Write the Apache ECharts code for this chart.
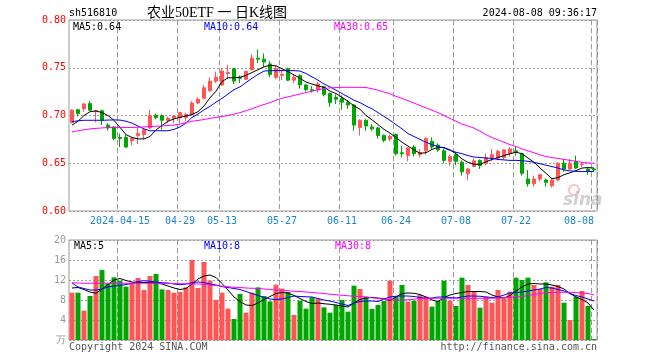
<!DOCTYPE html>
<html>
<head>
<meta charset="utf-8">
<script src="https://cdn.jsdelivr.net/npm/echarts@6/dist/echarts.min.js"></script>
<style>html,body{margin:0;padding:0;background:#fff}#c{width:660px;height:360px}</style>
</head>
<body>
<div id="c"></div>
<script>
const dates = [
'2024-04-01','2024-04-02','2024-04-03','2024-04-08','2024-04-09','2024-04-10','2024-04-11','2024-04-12',
'2024-04-15','2024-04-16','2024-04-17','2024-04-18','2024-04-19','2024-04-22','2024-04-23','2024-04-24','2024-04-25','2024-04-26',
'2024-04-29','2024-04-30','2024-05-06','2024-05-07','2024-05-08','2024-05-09','2024-05-10',
'2024-05-13','2024-05-14','2024-05-15','2024-05-16','2024-05-17','2024-05-20','2024-05-21','2024-05-22','2024-05-23','2024-05-24',
'2024-05-27','2024-05-28','2024-05-29','2024-05-30','2024-05-31','2024-06-03','2024-06-04','2024-06-05','2024-06-06','2024-06-07',
'2024-06-11','2024-06-12','2024-06-13','2024-06-14','2024-06-17','2024-06-18','2024-06-19','2024-06-20','2024-06-21',
'2024-06-24','2024-06-25','2024-06-26','2024-06-27','2024-06-28','2024-07-01','2024-07-02','2024-07-03','2024-07-04','2024-07-05',
'2024-07-08','2024-07-09','2024-07-10','2024-07-11','2024-07-12','2024-07-15','2024-07-16','2024-07-17','2024-07-18','2024-07-19',
'2024-07-22','2024-07-23','2024-07-24','2024-07-25','2024-07-26','2024-07-29','2024-07-30','2024-07-31','2024-08-01','2024-08-02',
'2024-08-05','2024-08-06','2024-08-07','2024-08-08'];

const labelDates = ['2024-04-15','2024-04-29','2024-05-13','2024-05-27','2024-06-11','2024-06-24','2024-07-08','2024-07-22','2024-08-08'];

const open = [0.6927,0.706,0.707,0.7125,0.704,0.705,0.690,0.688,0.677,0.677,
0.6735,0.679,0.680,0.687,0.700,0.700,0.695,0.697,0.698,0.698,
0.701,0.713,0.718,0.726,0.736,0.732,0.744,0.749,0.740,0.738,
0.748,0.760,0.759,0.754,0.740,0.742,0.749,0.737,0.742,0.732,
0.727,0.727,0.730,0.723,0.719,0.718,0.7135,0.711,0.6875,0.695,
0.688,0.687,0.679,0.6755,0.680,0.661,0.658,0.667,0.659,0.663,
0.673,0.669,0.663,0.652,0.659,0.651,0.639,0.6465,0.653,0.650,
0.6555,0.6555,0.656,0.660,0.663,0.660,0.6335,0.6285,0.6335,0.6325,
0.6265,0.6325,0.650,0.644,0.652,0.6485,0.644,0.644];
const close = [0.7055,0.702,0.712,0.7055,0.705,0.695,0.687,0.676,0.676,0.667,
0.676,0.681,0.685,0.700,0.698,0.695,0.697,0.6995,0.703,0.701,
0.713,0.717,0.729,0.736,0.740,0.7465,0.745,0.736,0.739,0.746,
0.760,0.759,0.756,0.743,0.749,0.743,0.737,0.740,0.732,0.727,
0.726,0.733,0.722,0.7135,0.717,0.714,0.711,0.690,0.695,0.689,
0.686,0.679,0.674,0.678,0.660,0.660,0.666,0.660,0.661,0.676,
0.667,0.664,0.653,0.657,0.652,0.641,0.644,0.6525,0.6475,0.656,
0.659,0.6625,0.664,0.665,0.662,0.6395,0.6285,0.6335,0.638,0.630,
0.6325,0.650,0.644,0.650,0.645,0.649,0.642,0.643];
const low = [0.6915,0.699,0.704,0.705,0.693,0.690,0.684,0.674,0.667,0.666,
0.669,0.670,0.675,0.686,0.696,0.685,0.692,0.692,0.692,0.694,
0.700,0.712,0.717,0.725,0.734,0.731,0.738,0.733,0.734,0.737,
0.747,0.755,0.751,0.740,0.738,0.737,0.736,0.734,0.728,0.725,
0.724,0.724,0.720,0.709,0.712,0.706,0.707,0.684,0.679,0.684,
0.684,0.676,0.672,0.673,0.658,0.656,0.652,0.657,0.656,0.659,
0.665,0.662,0.650,0.6475,0.648,0.637,0.632,0.646,0.644,0.648,
0.652,0.653,0.654,0.657,0.658,0.637,0.6255,0.6255,0.631,0.6255,
0.6245,0.631,0.641,0.643,0.644,0.646,0.638,0.642];
const high = [0.7065,0.707,0.713,0.715,0.706,0.706,0.692,0.689,0.681,0.680,
0.677,0.687,0.686,0.706,0.702,0.701,0.699,0.700,0.704,0.703,
0.715,0.719,0.732,0.740,0.746,0.750,0.753,0.750,0.742,0.747,
0.764,0.769,0.765,0.757,0.752,0.748,0.750,0.743,0.743,0.733,
0.731,0.735,0.731,0.724,0.722,0.721,0.716,0.712,0.696,0.696,
0.691,0.688,0.680,0.680,0.681,0.668,0.667,0.669,0.665,0.677,
0.677,0.671,0.665,0.659,0.662,0.653,0.645,0.655,0.654,0.660,
0.665,0.664,0.665,0.667,0.668,0.661,0.643,0.637,0.639,0.634,
0.634,0.651,0.6545,0.6545,0.658,0.651,0.645,0.645];

const priceMA5 = [0.690,0.694,0.700,0.704,0.7048,0.703,0.700,0.695,0.6875,0.680,
0.677,0.6755,0.6755,0.678,0.685,0.6895,0.694,0.6965,0.698,0.6995,
0.701,0.704,0.710,0.7185,0.7255,0.7355,0.7395,0.7395,0.740,0.742,
0.745,0.748,0.751,0.7525,0.752,0.749,0.746,0.7425,0.739,0.735,
0.733,0.731,0.7295,0.7255,0.723,0.719,0.715,0.710,0.7066,0.700,
0.6955,0.6905,0.6855,0.6815,0.677,0.672,0.668,0.664,0.6605,0.661,
0.6645,0.6667,0.6665,0.664,0.660,0.6545,0.651,0.649,0.6488,0.6515,
0.654,0.656,0.658,0.660,0.6615,0.660,0.6555,0.651,0.645,0.6395,
0.6338,0.635,0.638,0.640,0.6423,0.645,0.6455,0.645];
const priceMA10 = [0.6935,0.6945,0.695,0.695,0.695,0.695,0.6952,0.6954,0.6952,0.694,
0.692,0.689,0.686,0.684,0.684,0.684,0.684,0.6855,0.688,0.692,
0.698,0.7015,0.706,0.7095,0.714,0.718,0.7225,0.727,0.730,0.7345,
0.739,0.743,0.7465,0.747,0.747,0.747,0.747,0.747,0.7465,0.744,
0.7405,0.737,0.733,0.730,0.7265,0.723,0.7195,0.716,0.7135,0.710,
0.707,0.703,0.699,0.695,0.6905,0.686,0.681,0.678,0.675,0.672,
0.6695,0.6675,0.666,0.6635,0.6615,0.660,0.658,0.6565,0.656,0.6555,
0.655,0.654,0.6535,0.653,0.653,0.6527,0.652,0.651,0.6495,0.648,
0.6465,0.645,0.643,0.642,0.6415,0.6413,0.6413,0.6415];
const priceMA30 = [0.6828,0.684,0.685,0.686,0.6865,0.687,0.6873,0.6875,0.6875,0.6875,
0.6875,0.6876,0.688,0.6885,0.6888,0.689,0.6895,0.690,0.691,0.6925,
0.694,0.6948,0.6958,0.697,0.698,0.699,0.700,0.7015,0.703,0.705,
0.707,0.7095,0.7115,0.7135,0.716,0.718,0.7195,0.721,0.7225,0.724,
0.7255,0.727,0.728,0.729,0.7292,0.7295,0.7295,0.7295,0.7295,0.7293,
0.728,0.7265,0.7245,0.7228,0.720,0.718,0.7155,0.713,0.7105,0.708,
0.7055,0.703,0.700,0.697,0.694,0.691,0.689,0.6868,0.6835,0.680,
0.677,0.6745,0.672,0.6695,0.6675,0.665,0.663,0.661,0.6588,0.657,
0.656,0.655,0.654,0.653,0.652,0.651,0.6503,0.6502];

const volume = [9.47,9.47,5.87,8.8,12.8,14,11.33,12.53,11.87,10.67,
11.47,12.4,10,12.8,13.2,10.13,10,9.47,9.6,10.53,
16,10.4,15.6,11.87,8,9.47,6.27,4.2,9.2,5.47,
9.47,10.53,8.8,7.73,11.07,10.27,9.6,5,7.87,6.27,
8.53,8.27,6.53,5.47,7,8,5.67,10.87,10.2,8.67,
6.2,7,7.8,11.87,8.67,11,7.67,7.87,9,8.67,
6.67,7.8,11.87,7.87,6.8,12.47,11,9.67,6.47,8.67,
7.47,10,8.33,9.67,12.47,12,12.47,11,10.2,11.53,
10.67,11,7.47,4,8.67,9.8,6.8,0.2];
const volMA5 = [10.4,10.5,10.1,9.6,9.35,10.2,11.1,12.0,12.3,11.9,
11.6,11.5,11.5,11.5,11.4,11.2,10.8,10.4,10.1,10.3,
11.2,12.2,12.8,13.0,12.5,11.3,10.0,8.6,7.7,7.0,
6.9,7.4,8.1,8.7,9.3,9.5,9.4,8.9,8.3,7.7,
7.3,7.4,7.25,7.15,7.0,6.8,6.6,7.4,8.1,8.4,
8.5,8.4,8.2,7.9,8.6,9.3,9.4,9.35,9.1,8.6,
8.0,7.7,8.5,9.0,9.3,9.5,9.7,9.7,9.7,9.6,
9.0,8.6,8.4,8.9,9.8,10.6,11.2,11.3,11.2,11.2,
11.0,10.7,10.2,9.3,8.6,8.1,7.4,6.0];
const volMA10 = [11.4,10.6,10.3,10.0,10.0,10.2,10.6,10.8,10.9,11.1,
11.3,11.7,11.85,11.75,11.6,11.45,11.4,11.2,11.05,11.2,
11.45,11.6,11.5,11.2,11.0,10.7,10.5,10.3,10.1,9.7,
9.3,8.9,8.5,8.2,8.1,8.2,8.5,8.8,8.7,8.65,
8.6,8.3,8.0,7.8,7.5,7.2,6.9,7.4,7.7,7.8,
7.8,7.7,8.2,8.6,8.75,8.8,8.8,8.7,8.5,8.35,
8.4,8.6,8.6,8.5,8.4,8.6,8.8,8.8,8.75,8.6,
8.5,8.6,9.0,9.4,9.5,9.6,9.8,10.0,10.2,10.5,
10.4,10.1,9.8,9.3,8.9,8.6,8.2,7.8];
const volMA30 = [11.45,11.4,11.35,11.35,11.35,11.35,11.35,11.35,11.35,11.35,
11.35,11.35,11.35,11.35,11.35,11.3,11.3,11.3,11.25,11.25,
11.2,11.2,11.15,11.0,10.9,10.75,10.65,10.55,10.5,10.4,
10.35,10.3,10.2,10.1,10.0,9.95,9.85,9.75,9.7,9.6,
9.5,9.4,9.3,9.15,9.05,8.95,8.85,8.75,8.7,8.6,
8.45,8.3,8.15,8.05,8.0,8.0,8.05,8.15,8.3,8.35,
8.35,8.35,8.35,8.35,8.35,8.35,8.35,8.35,8.35,8.35,
8.35,8.4,8.45,8.55,8.6,8.7,8.9,9.1,9.3,9.45,
9.53,9.55,9.55,9.55,9.5,9.4,9.3,9.0];

const priceLegend = ['MA5:0.64','MA10:0.64','MA30:0.65'];
const volLegend = ['MA5:5','MA10:8','MA30:8'];
const titleCode = 'sh516810';
const titleName = '农业50ETF 一 日K线图';
const timeStamp = '2024-08-08 09:36:17';

const UP = '#ff5555', DOWN = '#00a600';
const MONO = 'DejaVu Sans Mono, Liberation Mono, monospace';
const isLabelDate = (idx) => labelDates.indexOf(dates[idx]) >= 0;

const chart = echarts.init(document.getElementById('c'), null, {renderer: 'canvas'});
const candleData = open.map((o, i) => [o, close[i], low[i], high[i]]);
const volData = volume.map((v, i) => ({value: v, itemStyle: {color: close[i] >= open[i] ? UP : DOWN}}));

function xAx(gi, showLabel) {
  return {
    type: 'category', gridIndex: gi, data: dates, boundaryGap: true,
    axisLine: {show: false},
    axisTick: {show: false},
    splitLine: {show: true, interval: isLabelDate, lineStyle: {color: '#999999', type: [5, 3], width: 1}},
    axisLabel: showLabel ? {
      show: true, interval: isLabelDate, color: '#1a86d0', fontFamily: MONO, fontSize: 10, margin: 5,
      formatter: v => v === labelDates[0] ? v : v.slice(5), alignMaxLabel: 'right'
    } : {show: false}
  };
}

const hSplit = {show: true, interval: 0, lineStyle: {color: '#a0a0a0', type: [2, 2], width: 1}};

const option = {
  animation: false,
  backgroundColor: '#ffffff',
  grid: [
    {left: 69, top: 20, width: 528, height: 191, show: true, borderColor: '#9a9a9a', borderWidth: 1, backgroundColor: 'rgba(0,0,0,0)'},
    {left: 69, top: 240, width: 528, height: 100, show: true, borderColor: '#9a9a9a', borderWidth: 1, backgroundColor: 'rgba(0,0,0,0)'}
  ],
  xAxis: [xAx(0, true), xAx(1, false)],
  yAxis: [
    {type: 'value', gridIndex: 0, min: 0.6, max: 0.8, interval: 0.05,
     axisLine: {show: false}, axisTick: {show: false},
     axisLabel: {color: '#ff0000', fontFamily: MONO, fontSize: 10, margin: 3, formatter: v => v.toFixed(2)},
     splitLine: hSplit},
    {type: 'value', gridIndex: 1, min: 0, max: 20, interval: 4,
     axisLine: {show: false}, axisTick: {show: false},
     axisLabel: {color: '#999', fontFamily: MONO, fontSize: 10, margin: 3, formatter: v => v === 0 ? '万' : String(v)},
     splitLine: hSplit}
  ],
  series: [
    {type: 'candlestick', xAxisIndex: 0, yAxisIndex: 0, data: candleData, barWidth: 4,
     itemStyle: {color: UP, color0: DOWN, borderColor: UP, borderColor0: DOWN, borderWidth: 1}},
    {type: 'line', xAxisIndex: 0, yAxisIndex: 0, data: priceMA5, symbol: 'none', lineStyle: {color: '#000', width: 1}},
    {type: 'line', xAxisIndex: 0, yAxisIndex: 0, data: priceMA10, symbol: 'none', lineStyle: {color: '#0000ff', width: 1}},
    {type: 'line', xAxisIndex: 0, yAxisIndex: 0, data: priceMA30, symbol: 'none', lineStyle: {color: '#ff00ff', width: 1}},
    {type: 'bar', xAxisIndex: 1, yAxisIndex: 1, data: volData, barWidth: 5},
    {type: 'line', xAxisIndex: 1, yAxisIndex: 1, data: volMA5, symbol: 'none', lineStyle: {color: '#000', width: 1}},
    {type: 'line', xAxisIndex: 1, yAxisIndex: 1, data: volMA10, symbol: 'none', lineStyle: {color: '#0000ff', width: 1}},
    {type: 'line', xAxisIndex: 1, yAxisIndex: 1, data: volMA30, symbol: 'none', lineStyle: {color: '#ff00ff', width: 1}}
  ],
  graphic: [
    {type: 'text', x: 69, y: 13, style: {text: titleCode, font: '10px ' + MONO, fill: '#000', textVerticalAlign: 'middle'}},
    {type: 'text', x: 217, y: 13, style: {text: titleName, font: '14px "Liberation Serif", "Noto Sans CJK SC", serif', fill: '#000', textAlign: 'center', textVerticalAlign: 'middle'}},
    {type: 'text', x: 597, y: 13, style: {text: timeStamp, font: '10px ' + MONO, fill: '#000', textAlign: 'right', textVerticalAlign: 'middle'}},
    {type: 'text', x: 73, y: 27, z: 10, style: {text: priceLegend[0], font: '10px ' + MONO, fill: '#000', textVerticalAlign: 'middle'}},
    {type: 'text', x: 204, y: 27, z: 10, style: {text: priceLegend[1], font: '10px ' + MONO, fill: '#0000ff', textVerticalAlign: 'middle'}},
    {type: 'text', x: 334, y: 27, z: 10, style: {text: priceLegend[2], font: '10px ' + MONO, fill: '#ff00ff', textVerticalAlign: 'middle'}},
    {type: 'text', x: 74, y: 246, z: 10, style: {text: volLegend[0], font: '10px ' + MONO, fill: '#000', textVerticalAlign: 'middle'}},
    {type: 'text', x: 204, y: 246, z: 10, style: {text: volLegend[1], font: '10px ' + MONO, fill: '#0000ff', textVerticalAlign: 'middle'}},
    {type: 'text', x: 335, y: 246, z: 10, style: {text: volLegend[2], font: '10px ' + MONO, fill: '#ff00ff', textVerticalAlign: 'middle'}},
    {type: 'text', x: 69, y: 347, style: {text: 'Copyright 2024 SINA.COM', font: '10px ' + MONO, fill: '#555', textVerticalAlign: 'middle'}},
    {type: 'text', x: 597, y: 347, style: {text: 'http://finance.sina.com.cn', font: '10px ' + MONO, fill: '#555', textAlign: 'right', textVerticalAlign: 'middle'}},
    {type: 'circle', shape: {cx: 574, cy: 190, r: 5}, style: {fill: 'none', stroke: 'rgba(230,120,120,0.45)', lineWidth: 2}, z: 0},
    {type: 'text', x: 563, y: 201, z: 0, style: {text: 'sina', font: 'italic bold 17px "DejaVu Sans", sans-serif', fill: 'rgba(150,150,150,0.45)', textVerticalAlign: 'middle'}}
  ]
};
chart.setOption(option);
</script>
</body>
</html>
